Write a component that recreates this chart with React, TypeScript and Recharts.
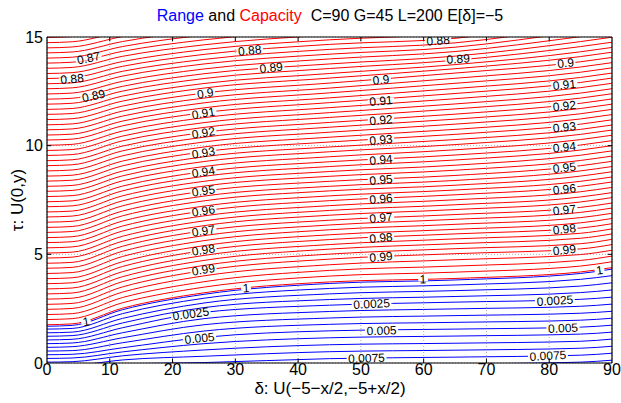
import React, { useLayoutEffect } from 'react';
import { ComposedChart, Line, Scatter, XAxis, YAxis, CartesianGrid, ReferenceLine } from 'recharts';

const xSamples = [0, 4, 12, 25, 45, 65, 85, 90];

// Capacity contours (red), levels 1.0 down to 0.86 in steps of 0.0025
const redLines: number[][] = [
  [1.76, 1.80, 2.52, 3.23, 3.73, 3.89, 4.19, 4.39],
  [2.00, 2.04, 2.77, 3.49, 4.00, 4.18, 4.46, 4.66],
  [2.23, 2.27, 3.01, 3.74, 4.26, 4.46, 4.72, 4.92],
  [2.47, 2.51, 3.26, 4.01, 4.52, 4.75, 4.99, 5.19],
  [2.70, 2.74, 3.50, 4.26, 4.78, 5.03, 5.25, 5.45],
  [2.94, 2.98, 3.74, 4.49, 5.01, 5.26, 5.49, 5.69],
  [3.18, 3.22, 3.97, 4.72, 5.24, 5.49, 5.74, 5.94],
  [3.41, 3.45, 4.20, 4.95, 5.45, 5.71, 5.97, 6.17],
  [3.65, 3.69, 4.44, 5.18, 5.68, 5.94, 6.21, 6.41],
  [3.88, 3.92, 4.66, 5.40, 5.90, 6.15, 6.45, 6.65],
  [4.12, 4.16, 4.90, 5.63, 6.13, 6.38, 6.69, 6.89],
  [4.36, 4.40, 5.14, 5.86, 6.35, 6.61, 6.93, 7.13],
  [4.59, 4.63, 5.37, 6.09, 6.57, 6.83, 7.16, 7.36],
  [4.83, 4.87, 5.60, 6.32, 6.80, 7.06, 7.41, 7.61],
  [5.06, 5.10, 5.83, 6.54, 7.02, 7.28, 7.64, 7.84],
  [5.30, 5.34, 6.07, 6.77, 7.24, 7.51, 7.88, 8.08],
  [5.54, 5.58, 6.30, 7.00, 7.47, 7.74, 8.13, 8.33],
  [5.77, 5.81, 6.53, 7.22, 7.69, 7.96, 8.36, 8.56],
  [6.01, 6.05, 6.77, 7.46, 7.92, 8.18, 8.60, 8.80],
  [6.24, 6.28, 6.99, 7.68, 8.13, 8.40, 8.84, 9.04],
  [6.48, 6.52, 7.23, 7.91, 8.36, 8.63, 9.08, 9.28],
  [6.72, 6.76, 7.46, 8.14, 8.59, 8.87, 9.32, 9.52],
  [6.95, 6.99, 7.69, 8.36, 8.81, 9.10, 9.56, 9.76],
  [7.19, 7.23, 7.92, 8.59, 9.04, 9.34, 9.80, 10.00],
  [7.42, 7.46, 8.14, 8.81, 9.26, 9.57, 10.03, 10.23],
  [7.66, 7.70, 8.38, 9.04, 9.49, 9.81, 10.28, 10.48],
  [7.90, 7.94, 8.61, 9.27, 9.72, 10.05, 10.52, 10.72],
  [8.13, 8.17, 8.83, 9.49, 9.94, 10.28, 10.75, 10.95],
  [8.37, 8.41, 9.07, 9.72, 10.17, 10.52, 10.99, 11.19],
  [8.60, 8.64, 9.29, 9.94, 10.39, 10.75, 11.23, 11.43],
  [8.84, 8.88, 9.53, 10.17, 10.62, 10.99, 11.47, 11.67],
  [9.08, 9.12, 9.76, 10.39, 10.85, 11.22, 11.71, 11.91],
  [9.31, 9.35, 9.98, 10.61, 11.07, 11.45, 11.95, 12.15],
  [9.55, 9.59, 10.22, 10.84, 11.30, 11.69, 12.19, 12.39],
  [9.78, 9.82, 10.44, 11.06, 11.52, 11.92, 12.42, 12.62],
  [10.02, 10.06, 10.67, 11.29, 11.75, 12.16, 12.67, 12.87],
  [10.26, 10.30, 10.91, 11.52, 11.98, 12.40, 12.91, 13.11],
  [10.49, 10.53, 11.13, 11.74, 12.20, 12.63, 13.14, 13.34],
  [10.73, 10.77, 11.36, 11.97, 12.43, 12.87, 13.38, 13.58],
  [10.96, 11.00, 11.59, 12.19, 12.65, 13.10, 13.62, 13.82],
  [11.20, 11.24, 11.82, 12.42, 12.88, 13.34, 13.86, 14.06],
  [11.44, 11.48, 12.05, 12.65, 13.11, 13.54, 14.10, 14.30],
  [11.67, 11.71, 12.28, 12.86, 13.32, 13.73, 14.32, 14.52],
  [11.91, 11.95, 12.51, 13.09, 13.55, 13.93, 14.56, 14.76],
  [12.14, 12.18, 12.73, 13.31, 13.76, 14.12, 14.79, 14.99],
  [12.38, 12.42, 12.96, 13.53, 13.99, 14.33, 15.02, 15.22],
  [12.62, 12.66, 13.20, 13.76, 14.21, 14.53, 15.26, 15.46],
  [12.85, 12.89, 13.42, 13.97, 14.43, 14.73, 15.48, 15.68],
  [13.09, 13.13, 13.65, 14.20, 14.66, 14.94, 15.72, 15.92],
  [13.32, 13.36, 13.87, 14.42, 14.87, 15.17, 15.95, 16.15],
  [13.56, 13.60, 14.11, 14.64, 15.10, 15.41, 16.18, 16.38],
  [13.80, 13.84, 14.34, 14.87, 15.32, 15.65, 16.42, 16.62],
  [14.03, 14.07, 14.56, 15.09, 15.54, 15.88, 16.65, 16.85],
  [14.27, 14.31, 14.79, 15.31, 15.76, 16.12, 16.88, 17.08],
  [14.50, 14.54, 15.02, 15.53, 15.98, 16.35, 17.11, 17.31],
  [14.74, 14.78, 15.25, 15.75, 16.20, 16.59, 17.34, 17.54],
  [14.98, 15.02, 15.48, 15.98, 16.43, 16.83, 17.58, 17.78],
];

// Range contours (blue), levels 0 up to 0.008125 in steps of 0.000625
const blueLines: number[][] = [
  [1.69, 1.73, 2.45, 3.16, 3.66, 3.82, 4.12, 4.32],
  [1.56, 1.59, 2.27, 2.98, 3.43, 3.59, 3.85, 4.02],
  [1.39, 1.42, 2.05, 2.76, 3.18, 3.33, 3.54, 3.69],
  [1.23, 1.26, 1.84, 2.55, 2.92, 3.06, 3.24, 3.36],
  [1.06, 1.09, 1.62, 2.33, 2.66, 2.80, 2.93, 3.03],
  [0.89, 0.92, 1.39, 2.04, 2.37, 2.49, 2.61, 2.71],
  [0.72, 0.75, 1.16, 1.76, 2.07, 2.18, 2.29, 2.38],
  [0.55, 0.57, 0.93, 1.47, 1.78, 1.87, 1.97, 2.06],
  [0.38, 0.40, 0.70, 1.18, 1.48, 1.56, 1.65, 1.74],
  [0.21, 0.23, 0.51, 0.89, 1.16, 1.24, 1.33, 1.42],
  [0.04, 0.06, 0.33, 0.60, 0.84, 0.91, 1.00, 1.10],
  [-0.13, -0.11, 0.14, 0.31, 0.52, 0.59, 0.68, 0.77],
  [-0.30, -0.28, -0.05, 0.02, 0.20, 0.27, 0.36, 0.45],
  [-0.47, -0.45, -0.24, -0.20, -0.12, -0.05, 0.04, 0.13],
];

const labelText = ['0.87', '0.88', '0.89', '0.88', '0.89', '0.88', '0.89',
  '0.9', '0.91', '0.92', '0.93', '0.94', '0.95', '0.96', '0.97', '0.98', '0.99',
  '0.9', '0.91', '0.92', '0.93', '0.94', '0.95', '0.96', '0.97', '0.98', '0.99',
  '0.9', '0.91', '0.92', '0.93', '0.94', '0.95', '0.96', '0.97', '0.98', '0.99',
  '1', '1', '1', '1',
  '0.0025', '0.0025', '0.0025', '0.005', '0.005', '0.005', '0.0075', '0.0075'];
const labelX = [6.6, 4.0, 7.4, 32.3, 35.7, 62.3, 65.5,
  25.2, 24.9, 24.9, 24.9, 24.9, 24.9, 24.9, 24.9, 24.9, 24.9,
  53.2, 53.2, 53.2, 53.2, 53.2, 53.2, 53.2, 53.2, 53.2, 53.2,
  82.6, 82.4, 82.4, 82.4, 82.4, 82.4, 82.4, 82.4, 82.4, 82.4,
  6.2, 31.7, 59.9, 88.0,
  22.9, 51.7, 80.9, 24.3, 53.3, 82.2, 50.9, 79.8];
const labelY = [14.04, 13.08, 12.30, 14.39, 13.60, 14.85, 14.0,
  12.42, 11.50, 10.60, 9.68, 8.80, 7.93, 7.01, 6.09, 5.21, 4.30,
  13.04, 12.07, 11.19, 10.28, 9.36, 8.44, 7.56, 6.69, 5.77, 4.89,
  13.81, 12.81, 11.84, 10.86, 9.94, 9.00, 8.01, 7.05, 6.17, 5.21,
  1.91, 3.45, 3.86, 4.28,
  2.27, 2.73, 2.88, 1.15, 1.50, 1.61, 0.23, 0.34];
const labelAngle = [-12, -5, -12, -6, -6, -4, -4,
  -9, -9, -9, -9, -9, -9, -9, -9, -9, -9,
  -5, -5, -5, -5, -5, -5, -5, -5, -5, -5,
  -6, -6, -6, -6, -6, -6, -6, -6, -6, -6,
  -10, -4, -2, -8,
  -8, -3, -4, -6, -2, -3, -2, -3];

const xTicks = [0, 10, 20, 30, 40, 50, 60, 70, 80, 90];
const yTicks = [0, 5, 10, 15];
const innerXTicks = [10, 20, 30, 40, 50, 60, 70, 80];
const innerYTicks = [5, 10];

const FONT = '"Liberation Sans", Arial, Helvetica, sans-serif';

const toData = (ys: number[]) => ys.map((y, i) => ({ x: xSamples[i], y }));
const redData = redLines.map(toData);
const blueData = blueLines.map(toData);
const labelData = labelText.map((t, i) => ({ x: labelX[i], y: labelY[i], t, a: labelAngle[i] }));

const textWidth = (s: string) => {
  let w = 0;
  for (const c of s) w += c === '.' ? 3.3 : 6.7;
  return w;
};

const LabelShape = (props: any) => {
  const { cx, cy, payload } = props;
  if (cx == null || cy == null || !payload) return <g />;
  const w = textWidth(payload.t);
  return (
    <g transform={`translate(${cx},${cy}) rotate(${payload.a})`}>
      <rect x={-w / 2 - 1.5} y={-2} width={w + 3} height={4} fill="#ffffff" />
      <text x={0} y={0} dy="0.36em" textAnchor="middle" fontSize={12} fontFamily={FONT} fill="#000">
        {payload.t}
      </text>
    </g>
  );
};

export default function App() {
  useLayoutEffect(() => {
    document.body.style.margin = '0';
  }, []);
  const W = 621;
  const H = 403;
  return (
    <div style={{ position: 'relative', width: W, height: H, overflow: 'hidden', fontFamily: FONT, background: '#fff' }}>
      <div style={{ position: 'absolute', left: 0, top: 0, width: W, height: H }}>
        <ComposedChart width={W} height={H} margin={{ top: 37, right: 9, bottom: 10, left: 17 }}>
          <CartesianGrid stroke="#b0b0b0" strokeDasharray="1 2" />
          <XAxis
            type="number"
            dataKey="x"
            domain={[0, 90]}
            ticks={xTicks}
            allowDataOverflow
            height={30}
            tickSize={0}
            tickMargin={1}
            tickLine={false}
            axisLine={false}
            interval={0}
            tick={{ fontSize: 16, fill: '#000', fontFamily: FONT }}
          />
          <YAxis
            type="number"
            dataKey="y"
            domain={[0, 15]}
            ticks={yTicks}
            allowDataOverflow
            width={30}
            tickSize={0}
            tickMargin={4}
            tickLine={false}
            axisLine={false}
            interval={0}
            tick={{ fontSize: 16, fill: '#000', fontFamily: FONT }}
          />
          {blueData.map((d, i) => (
            <Line key={`b${i}`} data={d} dataKey="y" type="monotone" stroke="#0000ff" strokeWidth={1}
              dot={false} activeDot={false} isAnimationActive={false} />
          ))}
          {redData.map((d, i) => (
            <Line key={`r${i}`} data={d} dataKey="y" type="monotone" stroke="#ff0000" strokeWidth={1}
              dot={false} activeDot={false} isAnimationActive={false} />
          ))}
          <Scatter data={labelData} dataKey="y" shape={LabelShape} isAnimationActive={false} />
          {innerXTicks.map((t) => (
            <ReferenceLine key={`tb${t}`} segment={[{ x: t, y: 0 }, { x: t, y: 0.2 }]} stroke="#000" />
          ))}
          {innerXTicks.map((t) => (
            <ReferenceLine key={`tt${t}`} segment={[{ x: t, y: 15 }, { x: t, y: 14.8 }]} stroke="#000" />
          ))}
          {innerYTicks.map((t) => (
            <ReferenceLine key={`tl${t}`} segment={[{ x: 0, y: t }, { x: 0.7, y: t }]} stroke="#000" />
          ))}
          {innerYTicks.map((t) => (
            <ReferenceLine key={`tr${t}`} segment={[{ x: 90, y: t }, { x: 89.3, y: t }]} stroke="#000" />
          ))}
          <ReferenceLine y={0} stroke="#000" strokeWidth={1.2} />
          <ReferenceLine y={15} stroke="#000" strokeWidth={1.2} />
          <ReferenceLine x={0} stroke="#000" strokeWidth={1.2} />
          <ReferenceLine x={90} stroke="#000" strokeWidth={1.2} />
        </ComposedChart>
      </div>
      <div style={{ position: 'absolute', left: 330, top: 7, transform: 'translateX(-50%)', fontSize: 16, lineHeight: '18px', whiteSpace: 'pre', color: '#000' }}>
        <span style={{ color: '#0000ff' }}>Range</span>
        <span> and </span>
        <span style={{ color: '#ff0000' }}>Capacity</span>
        <span>{'  C=90 G=45 L=200 E[δ]=−5'}</span>
      </div>
      <div style={{ position: 'absolute', left: 330, top: 380, transform: 'translateX(-50%)', fontSize: 17, lineHeight: '17px', whiteSpace: 'pre', color: '#000' }}>
        δ: U(−5−x/2,−5+x/2)
      </div>
      <div style={{ position: 'absolute', left: 18, top: 200, width: 0, height: 0 }}>
        <div style={{ position: 'absolute', transform: 'translate(-50%, -50%) rotate(-90deg)', fontSize: 17, lineHeight: '18px', whiteSpace: 'pre', color: '#000' }}>
          τ: U(0,y)
        </div>
      </div>
    </div>
  );
}
